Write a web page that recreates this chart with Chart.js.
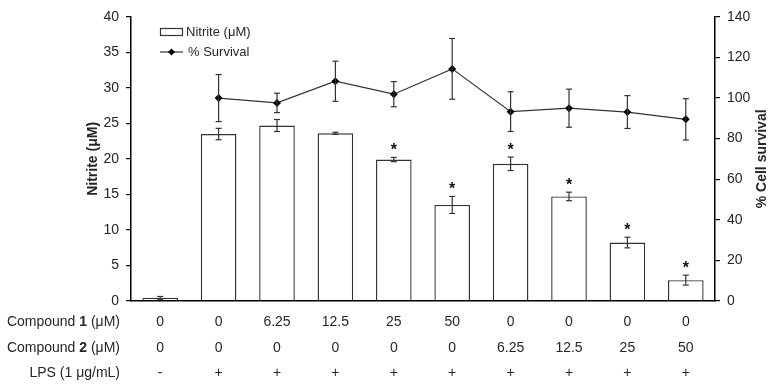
<!DOCTYPE html>
<html>
<head>
<meta charset="utf-8">
<script src="https://cdn.jsdelivr.net/npm/chart.js@4/dist/chart.umd.min.js"></script>
<style>
  html, body { margin: 0; padding: 0; background: #fff; }
  #wrap { width: 771px; height: 384px; position: relative; }
</style>
</head>
<body>
<div id="wrap"><canvas id="c" width="771" height="384"></canvas></div>
<script>
// ---- data ----
const categories = ['g1','g2','g3','g4','g5','g6','g7','g8','g9','g10'];
const nitrite    = [0.4, 23.5, 24.7, 23.6, 19.9, 13.5, 19.3, 14.7, 8.2, 2.9];
const nitriteErr = [0.2, 0.8, 0.85, 0.15, 0.3, 1.2, 0.95, 0.6, 0.75, 0.7];
const survival    = [null, 100, 97.6, 108.3, 101.9, 114.4, 93.3, 95.0, 93.1, 89.5];
const survivalErr = [null, 11.6, 4.8, 9.9, 6.2, 15.0, 9.8, 9.4, 8.1, 10.2];
const significant = [false, false, false, false, true, true, true, true, true, true];
const compound1 = ['0', '0', '6.25', '12.5', '25', '50', '0', '0', '0', '0'];
const compound2 = ['0', '0', '0', '0', '0', '0', '6.25', '12.5', '25', '50'];
const lps       = ['-', '+', '+', '+', '+', '+', '+', '+', '+', '+'];
const rowLabels = [
  [['Compound ', false], ['1', true], [' (μM)', false]],
  [['Compound ', false], ['2', true], [' (μM)', false]],
  [['LPS (1 μg/mL)', false]]
];
const leftAxisTitle = 'Nitrite (μM)';
const rightAxisTitle = '% Cell survival';
const barLabel = 'Nitrite (μM)';
const lineLabel = '% Survival';

const FONT = '"Liberation Sans", Arial, sans-serif';
const TXT = '#262626';
const INK = '#333333';

const overlay = {
  id: 'overlay',
  afterDatasetsDraw(chart) {
    const ctx = chart.ctx;
    const xs = chart.scales.x, yL = chart.scales.yL, yR = chart.scales.yR;
    ctx.save();
    ctx.strokeStyle = INK;
    ctx.lineWidth = 1.2;
    const seg = (x1, y1, x2, y2) => { ctx.beginPath(); ctx.moveTo(x1, y1); ctx.lineTo(x2, y2); ctx.stroke(); };
    // bar error bars + asterisks
    nitrite.forEach((v, i) => {
      const cx = xs.getPixelForValue(i);
      const t = yL.getPixelForValue(v + nitriteErr[i]);
      const b = yL.getPixelForValue(v - nitriteErr[i]);
      seg(cx, t, cx, b); seg(cx - 3, t, cx + 3, t); seg(cx - 3, b, cx + 3, b);
      if (significant[i]) {
        ctx.fillStyle = '#111';
        ctx.font = 'bold 16px ' + FONT;
        ctx.textAlign = 'center';
        ctx.textBaseline = 'alphabetic';
        ctx.fillText('*', cx, t - 2);
      }
    });
    // line error bars
    survival.forEach((v, i) => {
      if (v === null) return;
      const cx = xs.getPixelForValue(i);
      const t = yR.getPixelForValue(v + survivalErr[i]);
      const b = yR.getPixelForValue(v - survivalErr[i]);
      seg(cx, t, cx, b); seg(cx - 3, t, cx + 3, t); seg(cx - 3, b, cx + 3, b);
    });
    ctx.restore();
  },
  afterDraw(chart) {
    const ctx = chart.ctx;
    const xs = chart.scales.x;
    ctx.save();
    ctx.fillStyle = TXT;
    // axis titles
    ctx.font = 'bold 14px ' + FONT;
    ctx.textAlign = 'center';
    ctx.textBaseline = 'middle';
    const midY = (chart.chartArea.top + chart.chartArea.bottom) / 2;
    ctx.save(); ctx.translate(93, midY); ctx.rotate(-Math.PI / 2); ctx.fillText(leftAxisTitle, 0, 0); ctx.restore();
    ctx.save(); ctx.translate(762, midY); ctx.rotate(-Math.PI / 2); ctx.fillText(rightAxisTitle, 0, 0); ctx.restore();
    // table below axis
    const rows = [compound1, compound2, lps];
    const rowY = [322, 348, 373];
    rows.forEach((row, r) => {
      ctx.font = '14px ' + FONT;
      ctx.textAlign = 'center';
      ctx.textBaseline = 'middle';
      row.forEach((s, i) => ctx.fillText(s, xs.getPixelForValue(i), rowY[r]));
      // row label, right aligned at x=120
      const parts = rowLabels[r];
      let w = 0;
      parts.forEach(([s, b]) => { ctx.font = (b ? 'bold ' : '') + '14px ' + FONT; w += ctx.measureText(s).width; });
      let x = 120 - w;
      ctx.textAlign = 'left';
      parts.forEach(([s, b]) => { ctx.font = (b ? 'bold ' : '') + '14px ' + FONT; ctx.fillText(s, x, rowY[r]); x += ctx.measureText(s).width; });
    });
    // legend
    ctx.strokeStyle = INK;
    ctx.lineWidth = 1.2;
    ctx.fillStyle = '#fff';
    ctx.fillRect(160.5, 28.5, 22, 7);
    ctx.strokeRect(160.5, 28.5, 22, 7);
    ctx.beginPath(); ctx.moveTo(160, 52); ctx.lineTo(183, 52); ctx.stroke();
    ctx.fillStyle = '#000';
    ctx.beginPath(); ctx.moveTo(171.5, 48.5); ctx.lineTo(175, 52); ctx.lineTo(171.5, 55.5); ctx.lineTo(168, 52); ctx.closePath(); ctx.fill();
    ctx.fillStyle = TXT;
    ctx.font = '13px ' + FONT;
    ctx.textAlign = 'left';
    ctx.textBaseline = 'middle';
    ctx.fillText(barLabel, 186, 32);
    ctx.fillText(lineLabel, 188, 52);
    ctx.restore();
  }
};

new Chart(document.getElementById('c'), {
  data: {
    labels: categories,
    datasets: [
      {
        type: 'line', label: lineLabel, data: survival, yAxisID: 'yR', order: 0,
        borderColor: INK, borderWidth: 1.2, backgroundColor: '#000',
        pointStyle: 'rectRot', pointRadius: 4, pointBackgroundColor: '#000', pointBorderColor: '#000', pointBorderWidth: 0,
        tension: 0, spanGaps: false
      },
      {
        type: 'bar', label: barLabel, data: nitrite, yAxisID: 'yL', order: 1,
        backgroundColor: '#fff', borderColor: INK, borderWidth: 1.4,
        barPercentage: 0.61, categoryPercentage: 1.0
      }
    ]
  },
  options: {
    responsive: false,
    animation: false,
    devicePixelRatio: 1,
    layout: { padding: { top: 17, right: 0, left: 0, bottom: 0 } },
    plugins: { legend: { display: false }, tooltip: { enabled: false } },
    scales: {
      x: {
        type: 'category', offset: true,
        grid: { display: false },
        border: { display: true, color: '#000', width: 1.5 },
        ticks: { display: false },
        afterFit(axis) { axis.height = 83.3; }
      },
      yL: {
        position: 'left', min: 0, max: 40,
        ticks: { stepSize: 5, font: { size: 14, family: FONT }, color: TXT, padding: 7 },
        grid: { drawOnChartArea: false, drawTicks: true, tickLength: 5, color: '#000', lineWidth: 1.2 },
        border: { display: true, color: '#000', width: 1.5 },
        afterFit(axis) { axis.width = 131; }
      },
      yR: {
        position: 'right', min: 0, max: 140,
        ticks: { stepSize: 20, font: { size: 14, family: FONT }, color: TXT, padding: 7 },
        grid: { drawOnChartArea: false, drawTicks: true, tickLength: 5, color: '#000', lineWidth: 1.2 },
        border: { display: true, color: '#000', width: 1.5 },
        afterFit(axis) { axis.width = 56; }
      }
    }
  },
  plugins: [overlay]
});
</script>
</body>
</html>
